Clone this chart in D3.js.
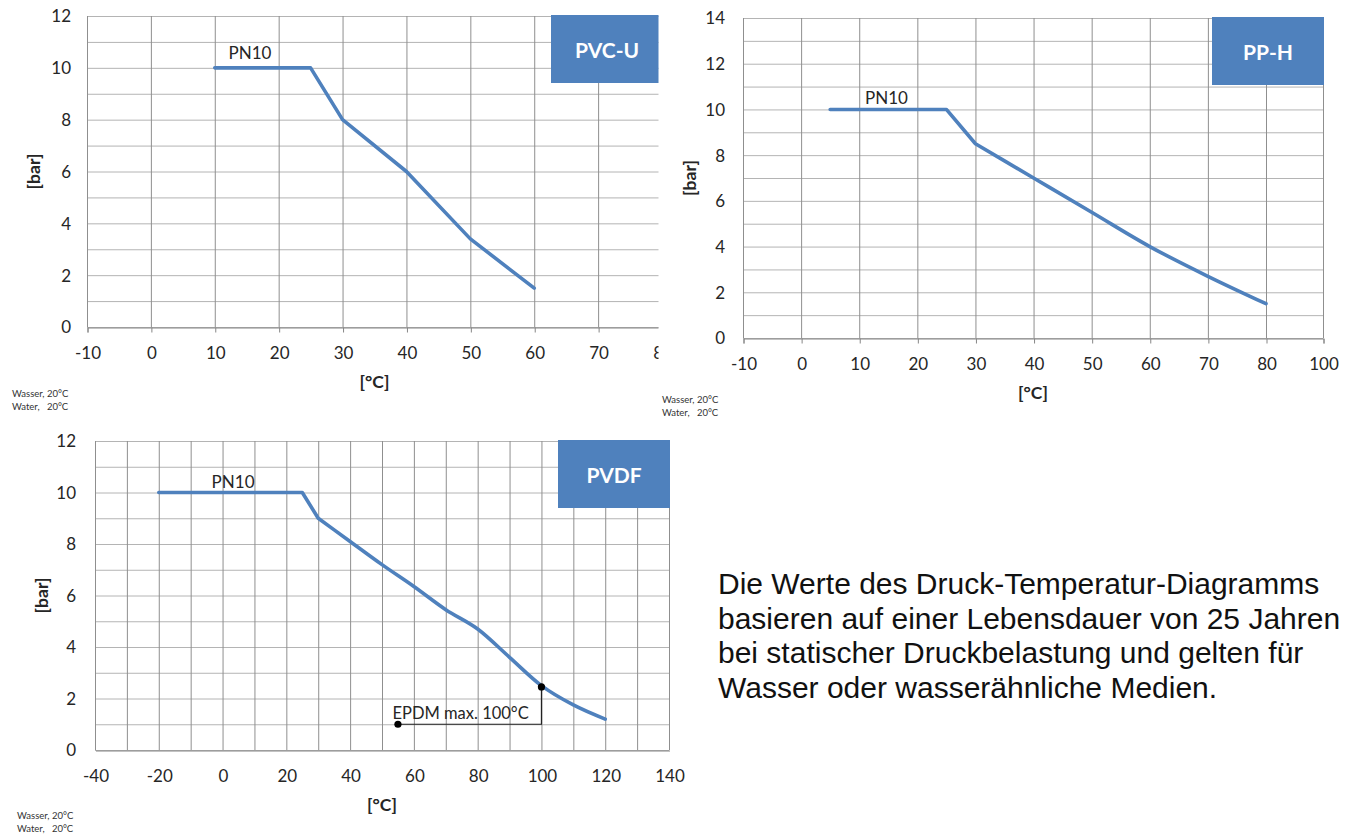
<!DOCTYPE html>
<html>
<head>
<meta charset="utf-8">
<script src="https://cdn.jsdelivr.net/npm/d3@7"></script>
<style>
  body { margin: 0; background: #fff; }
  svg { display: block; }
  text { font-family: "Lato", "Open Sans", sans-serif; }
</style>
</head>
<body>
<script>
// ---------- data ----------
const pvcTemp = [10, 25, 30, 40, 50, 60];
const pvcBar  = [10, 10, 8, 6, 3.4, 1.5];

const ppTemp = [5, 25, 30, 40, 50, 60, 70, 80];
const ppBar  = [10, 10, 8.5, 7.0, 5.5, 4.0, 2.7, 1.5];

const pvdfTemp = [-20, 25, 30, 40, 50, 60, 70, 80, 90, 100, 110, 120];
const pvdfBar  = [10, 10, 9.0, 8.1, 7.2, 6.35, 5.45, 4.7, 3.6, 2.5, 1.75, 1.2];

const pvcXTicks  = [-10, 0, 10, 20, 30, 40, 50, 60, 70, 80];
const ppXTicks   = [-10, 0, 10, 20, 30, 40, 50, 60, 70, 80, 100];
const pvdfXTicks = [-40, -20, 0, 20, 40, 60, 80, 100, 120, 140];
const pvdfXGrid  = d3.range(-40, 141, 10);

const pvcYTicks  = [0, 2, 4, 6, 8, 10, 12];
const ppYTicks   = [0, 2, 4, 6, 8, 10, 12, 14];
const pvdfYTicks = [0, 2, 4, 6, 8, 10, 12];

const titles = ["PVC-U", "PP-H", "PVDF"];
const pnLabel = "PN10";
const pnPos = [[15.5, 10.57], [14.7, 10.5], [3.3, 10.4]];
const yLabel = "[bar]";
const xLabel = "[°C]";
const noteLines = ["Wasser, 20°C", "Water,   20°C"];

const epdmText = "EPDM max. 100°C";
const epdmLabelPos = [53.3, 1.2];
const epdmPath = [[55, 1], [100, 1], [100, 2.45]];

const paragraph = [
  "Die Werte des Druck-Temperatur-Diagramms",
  "basieren auf einer Lebensdauer von 25 Jahren",
  "bei statischer Druckbelastung und gelten für",
  "Wasser oder wasserähnliche Medien."
];

// ---------- drawing ----------
const BLUE = "#4F81BD";
const svg = d3.select("body").append("svg").attr("width", 1353).attr("height", 836);

svg.append("defs").append("clipPath").attr("id", "clip1")
  .append("rect").attr("x", 0).attr("y", 0).attr("width", 658.5).attr("height", 420);

const fmt = d => String(d);

function drawChart(root, cfg) {
  const x = cfg.x, y = cfg.y;
  const [L, R] = [x.range()[0], x.range()[x.range().length - 1]];
  const [B, T] = y.range();
  const g = root.append("g");

  // horizontal grid (every 1 bar)
  g.selectAll("line.hg").data(d3.range(0, cfg.yMax + 1, 1)).join("line")
    .attr("x1", L).attr("x2", R)
    .attr("y1", d => y(d) + 0.5).attr("y2", d => y(d) + 0.5)
    .attr("stroke", "#b4b4b4").attr("stroke-width", 1);

  // vertical grid
  g.selectAll("line.vg").data(cfg.xGrid).join("line")
    .attr("x1", d => x(d) + 0.5).attr("x2", d => x(d) + 0.5)
    .attr("y1", T).attr("y2", B)
    .attr("stroke", "#8f8f8f").attr("stroke-width", 1);

  // x axis
  const xa = g.append("g").attr("transform", `translate(0.5,${B + 0.5})`)
    .call(d3.axisBottom(x).tickValues(cfg.xTicks).tickSize(cfg.tick).tickPadding(0)
      .tickFormat(fmt));
  xa.select(".domain").attr("stroke", "#868686");
  xa.selectAll(".tick line").attr("stroke", "#868686");
  xa.selectAll(".tick text").attr("y", 26).attr("dy", "0.35em")
    .attr("font-size", 17).attr("fill", "#262626");

  // y axis labels
  const ya = g.append("g").attr("transform", `translate(${L},0)`)
    .call(d3.axisLeft(y).tickValues(cfg.yTicks).tickSize(0).tickPadding(cfg.yPad).tickFormat(fmt));
  ya.select(".domain").remove();
  ya.selectAll(".tick text").attr("font-size", 17).attr("fill", "#262626").attr("dy", "0.35em");

  // data line: straight up to the knee at index 2, optionally smoothed afterwards
  const pts = cfg.temp.map((t, i) => [t, cfg.bar[i]]);
  const head = pts.slice(0, 3);
  const tail = pts.slice(2);
  const lineLin = d3.line().x(d => x(d[0])).y(d => y(d[1]));
  const lineTail = d3.line().x(d => x(d[0])).y(d => y(d[1]))
    .curve(cfg.smooth ? d3.curveMonotoneX : d3.curveLinear);
  g.append("path").attr("d", lineLin(head) + lineTail(tail).replace(/^M/, "L"))
    .attr("fill", "none").attr("stroke", BLUE).attr("stroke-width", 3.6)
    .attr("stroke-linejoin", "round").attr("stroke-linecap", "round");

  // PN10 label
  g.append("text").attr("x", x(cfg.pn[0])).attr("y", y(cfg.pn[1]))
    .attr("dy", "0.35em").attr("text-anchor", "middle")
    .attr("font-size", 17).attr("fill", "#262626").text(pnLabel);

  // title box
  g.append("rect").attr("x", R - 111).attr("y", T - 1).attr("width", 112).attr("height", 68)
    .attr("fill", BLUE);
  g.append("text").attr("x", R - 55).attr("y", T + 34).attr("dy", "0.36em")
    .attr("text-anchor", "middle").attr("font-size", 21).attr("font-weight", "bold")
    .attr("fill", "#fff").text(cfg.title);

  // axis titles
  g.append("text").attr("transform", `translate(${L - 53},${(T + B) / 2}) rotate(-90)`)
    .attr("text-anchor", "middle").attr("dy", "0.35em")
    .attr("font-size", 17.5).attr("font-weight", "bold").attr("fill", "#262626").text(yLabel);
  g.append("text").attr("x", (L + R) / 2).attr("y", B + 55).attr("dy", "0.35em")
    .attr("text-anchor", "middle").attr("font-size", 17.5).attr("font-weight", "bold")
    .attr("fill", "#262626").text(xLabel);

  return g;
}

// chart 1: PVC-U
const c1 = svg.append("g").attr("clip-path", "url(#clip1)");
drawChart(c1, {
  x: d3.scaleLinear().domain([-10, 80]).range([87, 662]),
  y: d3.scaleLinear().domain([0, 12]).range([327, 16]),
  yMax: 12, xGrid: pvcXTicks, xTicks: pvcXTicks, yTicks: pvcYTicks, tick: 5, yPad: 16,
  temp: pvcTemp, bar: pvcBar, smooth: false, pn: pnPos[0], title: titles[0]
});

// chart 2: PP-H (axis positions are equally spaced labels; 80→100 is one step)
const c2 = svg.append("g");
drawChart(c2, {
  x: d3.scaleLinear().domain([-10, 80, 100]).range([743, 1266, 1323]),
  y: d3.scaleLinear().domain([0, 14]).range([338, 18]),
  yMax: 14, xGrid: ppXTicks, xTicks: ppXTicks, yTicks: ppYTicks, tick: 5, yPad: 18,
  temp: ppTemp, bar: ppBar, smooth: true, pn: pnPos[1], title: titles[1]
});

// chart 3: PVDF
const c3 = svg.append("g");
const x3 = d3.scaleLinear().domain([-40, 140]).range([95, 669]);
const y3 = d3.scaleLinear().domain([0, 12]).range([750, 441]);
const g3 = drawChart(c3, {
  x: x3, y: y3,
  yMax: 12, xGrid: pvdfXGrid, xTicks: pvdfXTicks, yTicks: pvdfYTicks, tick: 0, yPad: 19,
  temp: pvdfTemp, bar: pvdfBar, smooth: true, pn: pnPos[2], title: titles[2]
});

// EPDM annotation
g3.append("path").attr("d", d3.line().x(d => x3(d[0])).y(d => y3(d[1]))(epdmPath))
  .attr("fill", "none").attr("stroke", "#222").attr("stroke-width", 1.2);
g3.selectAll("circle.ep").data([epdmPath[0], epdmPath[2]]).join("circle")
  .attr("cx", d => x3(d[0])).attr("cy", d => y3(d[1])).attr("r", 3.6).attr("fill", "#000");
g3.append("text").attr("x", x3(epdmLabelPos[0])).attr("y", y3(epdmLabelPos[1]))
  .attr("font-size", 16.5).attr("fill", "#262626").text(epdmText);

// small water notes
const notes = [[12, 394], [662, 400], [17, 816]];
notes.forEach(([nx, ny]) => {
  noteLines.forEach((t, i) => {
    svg.append("text").attr("x", nx).attr("y", ny + i * 13).attr("dy", "0.35em")
      .attr("font-size", 9.5).attr("fill", "#333")
      .style("white-space", "pre").text(t);
  });
});

// paragraph
svg.append("g").selectAll("text").data(paragraph).join("text")
  .attr("x", 718).attr("y", (d, i) => 594 + i * 34.5)
  .style("font-family", '"Liberation Sans", Arial, sans-serif')
  .attr("font-size", 30).attr("fill", "#111").text(d => d);
</script>
</body>
</html>
